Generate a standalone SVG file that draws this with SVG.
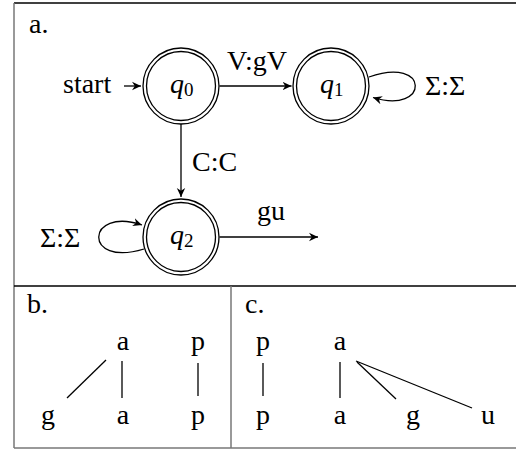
<svg xmlns="http://www.w3.org/2000/svg" width="516" height="450" viewBox="0 0 516 450" font-family="'Liberation Serif', 'DejaVu Serif', serif">
<defs>
<style>
text{font-family:'Liberation Serif','DejaVu Serif',serif;font-size:28px;fill:#000}
.st{fill:none;stroke:#000;stroke-width:1.3}
.ln{stroke:#000;stroke-width:1.3}
.frame{stroke:#777;stroke-width:1.5;fill:none}
.q{font-style:italic}
.sub{font-size:19px;font-style:normal}
</style>
<marker id="ah" markerWidth="12" markerHeight="10" refX="9" refY="5" orient="auto" markerUnits="userSpaceOnUse">
<path d="M9,5 L0,0.8 L2.8,5 L0,9.2 Z" fill="#000"/>
</marker>
</defs>
<rect width="516" height="450" fill="#fff"/>
<g id="frame">
<line x1="14" y1="3" x2="516" y2="3" stroke="#000" stroke-width="1.5"/>
<line x1="14" y1="3" x2="14" y2="448" class="frame"/>
<line x1="14" y1="448" x2="516" y2="448" class="frame"/>
<line x1="14" y1="286" x2="516" y2="286" stroke="#000" stroke-width="1.5"/>
<line x1="231" y1="286" x2="231" y2="448" class="frame"/>
<text x="29" y="33">a.</text>
<text x="27" y="313">b.</text>
<text x="245" y="313">c.</text>
</g>
<g id="connectors">
<line x1="124" y1="86" x2="141" y2="86" class="ln" marker-end="url(#ah)"/>
<line x1="219.5" y1="86" x2="291.5" y2="86" class="ln" marker-end="url(#ah)"/>
<line x1="181" y1="124" x2="181" y2="197" class="ln" marker-end="url(#ah)"/>
<path d="M369,77 C430,55 430,115 373,97.5" class="st" marker-end="url(#ah)"/>
<path d="M144,249 C82,268 86,206 142,225" class="st" marker-end="url(#ah)"/>
<line x1="219.5" y1="237" x2="318" y2="237" class="ln" marker-end="url(#ah)"/>
<text x="63" y="93">start</text>
<text x="257" y="70" text-anchor="middle">V:gV</text>
<text x="192" y="171">C:C</text>
<text x="425" y="95">Σ:Σ</text>
<text x="40" y="247">Σ:Σ</text>
<text x="271" y="220" text-anchor="middle">gu</text>
</g>
<g id="q0">
<circle cx="181" cy="86" r="38" class="st"/>
<circle cx="181" cy="86" r="34.5" class="st"/>
<text x="170" y="93" class="q">q<tspan class="sub" dy="3">0</tspan></text>
</g>
<g id="q1">
<circle cx="331" cy="86" r="38" class="st"/>
<circle cx="331" cy="86" r="34.5" class="st"/>
<text x="320" y="93" class="q">q<tspan class="sub" dy="3">1</tspan></text>
</g>
<g id="q2">
<circle cx="181" cy="237" r="38" class="st"/>
<circle cx="181" cy="237" r="34.5" class="st"/>
<text x="170" y="244" class="q">q<tspan class="sub" dy="3">2</tspan></text>
</g>
<g id="tree-b">
<text x="123" y="350" text-anchor="middle">a</text>
<text x="198" y="350" text-anchor="middle">p</text>
<text x="48" y="424" text-anchor="middle">g</text>
<text x="123" y="424" text-anchor="middle">a</text>
<text x="198" y="424" text-anchor="middle">p</text>
<line x1="67" y1="398" x2="106" y2="360" class="ln"/>
<line x1="122" y1="361" x2="122" y2="398" class="ln"/>
<line x1="198" y1="363" x2="198" y2="396" class="ln"/>
</g>
<g id="tree-c">
<text x="263" y="350" text-anchor="middle">p</text>
<text x="340" y="350" text-anchor="middle">a</text>
<text x="263" y="424" text-anchor="middle">p</text>
<text x="340" y="424" text-anchor="middle">a</text>
<text x="413" y="424" text-anchor="middle">g</text>
<text x="488" y="424" text-anchor="middle">u</text>
<line x1="263" y1="363" x2="263" y2="396" class="ln"/>
<line x1="340" y1="362" x2="340" y2="398" class="ln"/>
<line x1="357" y1="362" x2="396" y2="399" class="ln"/>
<line x1="356" y1="361" x2="472" y2="408" class="ln"/>
</g>
</svg>
